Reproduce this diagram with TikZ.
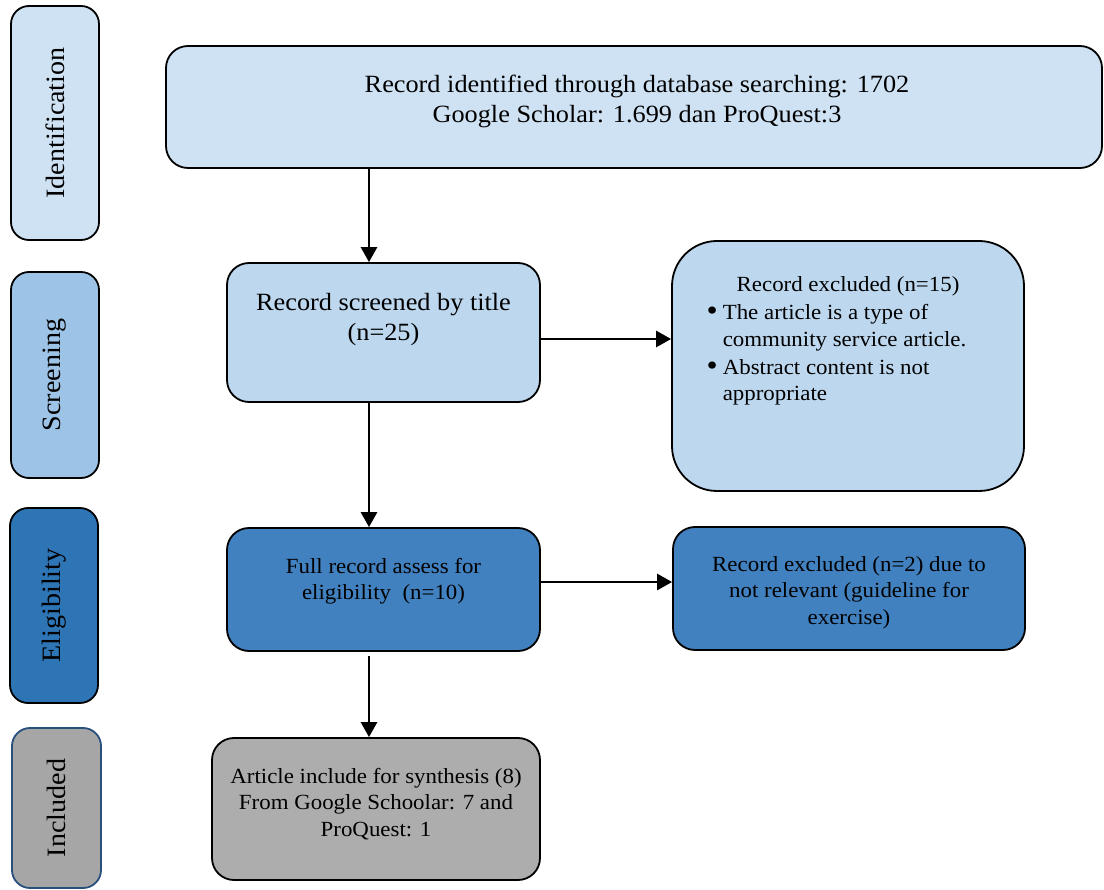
\documentclass[tikz,border=0pt]{standalone}
\usepackage{fontspec}
\setmainfont{Liberation Serif}[FakeStretch=1.06]
\usetikzlibrary{arrows.meta}
\definecolor{idfill}{RGB}{207,226,243}
\definecolor{scrside}{RGB}{157,195,230}
\definecolor{scrbox}{RGB}{189,215,238}
\definecolor{eligside}{RGB}{46,117,182}
\definecolor{eligbox}{RGB}{66,129,192}
\definecolor{incfill}{RGB}{166,166,166}
\definecolor{incbox}{RGB}{173,173,173}
\definecolor{incborder}{RGB}{40,80,125}
\tikzset{
  side/.style={draw=black, line width=1.8pt, rounded corners=18pt, inner sep=0pt, rotate=90,
    font=\fontsize{26.5}{30}\selectfont},
  box/.style={draw=black, line width=1.8pt, rounded corners=22pt, inner sep=0pt},
  arr/.style={line width=2.8pt, -{Triangle[length=15pt,width=16pt]}},
  big/.style={font=\fontsize{24.8}{30}\selectfont},
  small/.style={font=\fontsize{21.6}{26.5}\selectfont},
}
\begin{document}
\begin{tikzpicture}[x=1pt,y=-1pt]
\useasboundingbox (0,0) rectangle (1104,890);
% side labels
\node[side, fill=idfill, minimum width=234pt, minimum height=88pt] (idside) at (55,123) {Identification};
\node[side, fill=scrside, minimum width=206pt, minimum height=88pt] (scrsideN) at (55,375) {Screening};
\node[side, fill=eligside, minimum width=195pt, minimum height=88pt] (eligsideN) at (54,605.5) {Eligibility};
\node[side, fill=incfill, draw=incborder, minimum width=160pt, minimum height=89pt] (incside) at (56.5,808) {Included};
% main boxes
\node[box, fill=idfill, minimum width=936pt, minimum height=122pt,
  label={[big, anchor=base, xshift=3pt, yshift=-47.5pt]north:{\begin{tabular}[t]{@{}c@{}}Record identified through database searching: 1702\\Google Scholar: 1.699 dan ProQuest:3\end{tabular}}}] (top) at (634,107) {};
\node[box, fill=scrbox, minimum width=313pt, minimum height=139pt,
  label={[big, anchor=base, yshift=-48.5pt]north:{\begin{tabular}[t]{@{}c@{}}Record screened by title\\(n=25)\end{tabular}}}] (scr) at (383.5,332.5) {};
\node[box, fill=scrbox, rounded corners=45pt, minimum width=352pt, minimum height=250pt,
  label={[small, anchor=base, yshift=-51pt]north:{Record excluded (n=15)}},
  label={[small, anchor=base west, xshift=32pt, yshift=-79pt]north west:{\begin{tabular}[t]{@{}l@{\hspace{5pt}}l@{}}{\fontsize{30}{26}\selectfont\raisebox{-1pt}{\textbullet}} & The article is a type of\\[0.5pt] & community service article.\\[1.5pt] {\fontsize{30}{26}\selectfont\raisebox{-1pt}{\textbullet}} & Abstract content is not\\ & appropriate\end{tabular}}}] (exc15) at (848,366) {};
\node[box, fill=eligbox, minimum width=313pt, minimum height=123pt,
  label={[small, anchor=base, yshift=-46pt]north:{\begin{tabular}[t]{@{}c@{}}Full record assess for\\eligibility~ (n=10)\end{tabular}}}] (full) at (383.5,589.5) {};
\node[box, fill=eligbox, minimum width=352pt, minimum height=123pt,
  label={[small, anchor=base, yshift=-45pt]north:{\begin{tabular}[t]{@{}c@{}}Record excluded (n=2) due to\\not relevant (guideline for\\exercise)\end{tabular}}}] (exc2) at (849,588.5) {};
\node[box, fill=incbox, minimum width=328pt, minimum height=142pt,
  label={[small, anchor=base, yshift=-46pt]north:{\begin{tabular}[t]{@{}c@{}}Article include for synthesis (8)\\From Google Schoolar: 7 and\\ProQuest: 1\end{tabular}}}] (incb) at (376,809) {};
% connectors
\coordinate (a1) at ([xshift=-14.5pt]scr.north);
\coordinate (b1) at ([yshift=-6.5pt]scr.east);
\coordinate (b2) at ([yshift=7.5pt]full.east);
\draw[arr] (a1 |- top.south) -- (a1);
\draw[arr] (a1 |- scr.south) -- (a1 |- full.north);
\draw[arr, shorten <=4pt] (a1 |- full.south) -- (a1 |- incb.north);
\draw[arr] (b1) -- (b1 -| exc15.west);
\draw[arr] (b2) -- (b2 -| exc2.west);
\end{tikzpicture}
\end{document}
